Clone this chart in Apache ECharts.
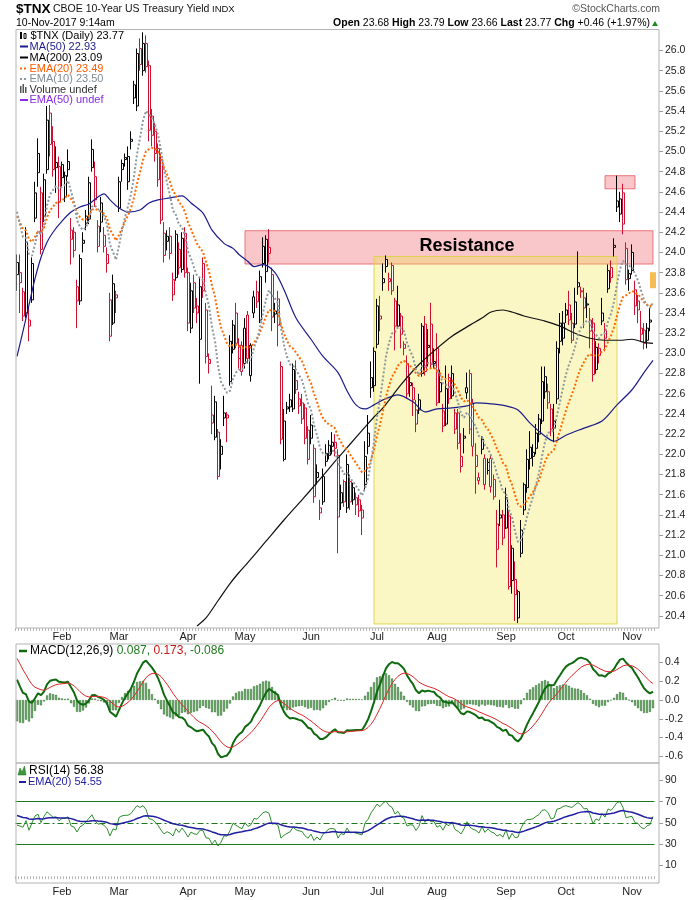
<!DOCTYPE html>
<html>
<head>
<meta charset="utf-8">
<script src="https://cdn.jsdelivr.net/npm/echarts@6.0.0/dist/echarts.min.js"></script>
<style>html,body{margin:0;padding:0;background:#ffffff;}#chart{width:700px;height:900px;}</style>
</head>
<body>
<div id="chart"></div>
<script>
// ================= DATA =================
const tradingDays = {
  '2017-01': [10,11,12,13,17,18,19,20,23,24,25,26,27,30,31],
  '2017-02': [1,2,3,6,7,8,9,10,13,14,15,16,17,21,22,23,24,27,28],
  '2017-03': [1,2,3,6,7,8,9,10,13,14,15,16,17,20,21,22,23,24,27,28,29,30,31],
  '2017-04': [3,4,5,6,7,10,11,12,13,17,18,19,20,21,24,25,26,27,28],
  '2017-05': [1,2,3,4,5,8,9,10,11,12,15,16,17,18,19,22,23,24,25,26,30,31],
  '2017-06': [1,2,5,6,7,8,9,12,13,14,15,16,19,20,21,22,23,26,27,28,29,30],
  '2017-07': [3,5,6,7,10,11,12,13,14,17,18,19,20,21,24,25,26,27,28,31],
  '2017-08': [1,2,3,4,7,8,9,10,11,14,15,16,17,18,21,22,23,24,25,28,29,30,31],
  '2017-09': [1,5,6,7,8,11,12,13,14,15,18,19,20,21,22,25,26,27,28,29],
  '2017-10': [2,3,4,5,6,9,10,11,12,13,16,17,18,19,20,23,24,25,26,27,30,31],
  '2017-11': [1,2,3,6,7,8,9,10]
};
const monthNames = ['Jan','Feb','Mar','Apr','May','Jun','Jul','Aug','Sep','Oct','Nov','Dec'];

const opens = [
23.90,23.80,23.37,23.40,23.33,23.53,24.34,24.98,24.59,24.36,
24.82,25.38,25.10,24.89,24.85,24.87,24.55,24.82,24.22,24.20,
23.66,23.52,24.12,24.29,24.33,24.84,24.75,24.06,24.49,24.06,
23.98,23.53,23.30,23.55,24.44,24.82,24.92,24.70,25.10,25.66,
25.45,26.02,25.80,26.07,25.85,25.35,25.20,25.03,24.92,24.19,
24.16,24.16,23.58,23.75,24.03,23.83,24.19,23.80,23.25,23.70,
23.47,23.14,23.89,23.43,22.90,22.39,22.17,22.22,22.08,22.36,
22.39,23.12,23.04,23.40,23.08,23.08,22.90,23.38,22.78,23.40,
23.61,23.33,23.89,23.81,23.99,23.78,23.42,23.54,22.87,21.95,
22.47,22.47,22.45,22.73,22.48,22.35,22.46,22.24,22.29,22.06,
21.82,21.42,21.53,22.01,21.99,22.08,22.12,21.99,21.52,21.73,
21.47,21.73,21.67,21.57,21.55,21.45,21.70,22.08,22.76,22.68,
23.09,23.37,23.74,23.86,23.74,23.87,23.52,23.27,23.37,23.05,
22.90,22.71,22.54,22.44,22.44,22.80,23.29,23.06,23.29,22.92,
23.05,22.71,22.43,22.30,22.76,22.58,22.41,22.41,21.98,22.16,
22.61,22.80,22.51,21.88,21.74,22.05,21.96,21.84,21.96,21.75,
21.06,21.37,21.40,21.27,21.39,20.75,20.76,20.38,21.02,21.45,
21.67,22.07,21.98,22.06,22.20,22.33,22.62,22.51,22.45,22.26,
22.55,23.30,23.15,23.43,23.48,23.13,23.29,23.66,23.62,23.55,
23.49,23.33,23.30,22.84,23.05,23.32,23.15,23.64,23.85,24.07,
24.51,24.38,24.59,24.04,23.74,24.00,23.63,23.52,23.25,23.23,
23.13,23.33,23.68];
const highs = [
23.98,23.98,23.65,24.25,23.45,23.95,24.70,25.13,24.65,24.78,
25.45,25.46,25.25,25.05,24.95,24.90,24.80,25.02,24.34,24.25,
23.73,23.98,24.20,24.42,24.75,25.12,24.90,24.32,24.55,24.25,
24.05,23.60,23.78,23.62,24.75,24.92,24.98,25.05,25.20,25.70,
26.02,26.12,26.18,26.15,25.90,25.42,25.28,25.08,24.98,24.30,
24.22,24.25,23.80,24.22,24.10,24.20,24.25,23.85,23.70,23.78,
23.55,23.75,23.95,23.50,23.00,22.68,22.58,22.25,22.15,22.58,
22.42,23.18,23.33,23.50,23.15,23.12,23.35,23.42,23.10,23.62,
23.72,23.82,24.15,24.17,24.23,23.85,23.50,23.62,22.92,22.45,
22.52,22.60,22.90,22.93,22.62,22.60,22.50,22.28,22.39,22.10,
21.90,21.55,21.86,22.10,22.14,22.22,22.20,22.05,21.70,21.75,
22.00,21.80,21.72,21.62,21.60,21.50,22.13,22.39,22.92,23.06,
23.54,23.57,23.89,23.97,23.80,23.90,23.55,23.67,23.40,23.12,
22.98,22.77,22.71,22.54,22.60,23.30,23.37,23.24,23.50,23.05,
23.20,22.84,22.50,22.88,22.80,22.88,22.45,22.45,22.21,22.26,
22.81,22.84,22.55,22.11,21.82,22.18,22.00,21.96,22.00,21.80,
21.45,21.55,21.45,21.67,21.45,21.10,20.94,20.66,21.35,21.72,
22.05,22.23,22.10,22.30,22.40,22.87,22.87,22.70,22.50,22.50,
23.12,23.40,23.42,23.50,23.62,23.40,23.65,24.01,23.66,23.65,
23.60,23.45,23.35,23.12,23.10,23.55,23.30,23.88,23.92,24.14,
24.76,24.60,24.68,24.10,23.83,24.08,23.72,23.58,23.42,23.30,
23.30,23.45,23.79];
const lows = [
23.62,23.40,23.32,23.35,23.12,23.50,24.30,24.65,23.98,24.30,
24.78,24.95,24.75,24.59,24.34,24.65,24.50,24.75,23.88,23.95,
23.25,23.48,24.00,24.22,24.28,24.80,24.45,24.00,24.20,24.00,
23.80,23.12,23.28,23.40,24.40,24.70,24.85,24.62,25.02,25.47,
25.40,25.80,25.75,25.78,25.10,25.05,24.90,24.65,24.28,23.90,
24.02,23.93,23.52,23.72,23.78,23.80,23.75,23.22,23.20,23.40,
23.30,22.70,23.55,22.90,22.80,22.20,22.14,21.75,21.85,22.28,
22.12,22.68,23.00,23.05,22.85,22.78,22.85,22.90,22.72,23.35,
23.45,23.30,23.85,23.70,23.90,23.22,23.30,23.07,22.10,21.93,
22.40,22.42,22.42,22.60,22.40,22.30,22.10,21.90,22.10,21.52,
21.70,21.35,21.50,21.88,21.95,22.00,21.98,21.02,21.45,21.48,
21.42,21.45,21.50,21.40,21.38,21.20,21.65,22.00,22.56,22.62,
23.05,23.22,23.62,23.80,23.62,23.58,23.03,23.25,23.05,22.98,
22.55,22.57,22.38,22.22,22.40,22.77,22.78,22.87,22.85,22.85,
22.48,22.51,22.22,22.28,22.50,22.55,22.20,22.05,21.82,22.01,
22.55,22.20,21.98,21.61,21.70,22.00,21.65,21.80,21.62,21.55,
20.88,21.29,21.10,21.26,20.66,20.62,20.35,20.33,20.98,21.40,
21.62,21.85,21.88,22.00,22.12,22.30,22.55,22.45,22.18,22.12,
22.50,23.00,23.08,23.30,23.28,23.10,23.25,23.58,23.55,23.25,
23.35,23.05,22.72,22.80,22.90,23.28,23.02,23.60,23.70,23.96,
24.40,24.30,24.18,23.68,23.62,23.78,23.38,23.30,23.12,23.04,
23.05,23.22,23.66];
const closes = [
23.78,23.70,23.61,24.10,23.27,23.89,24.59,24.79,24.03,24.72,
25.31,25.07,24.82,24.84,24.50,24.74,24.76,24.90,24.13,24.02,
23.52,23.94,24.09,24.36,24.69,25.02,24.52,24.26,24.30,24.17,
23.89,23.17,23.69,23.58,24.70,24.88,24.94,24.95,25.12,25.53,
25.97,25.86,26.07,25.84,25.21,25.16,24.98,24.72,24.32,23.97,
24.11,23.99,23.73,24.18,23.85,24.14,23.80,23.30,23.62,23.45,
23.40,23.66,23.62,22.97,22.94,22.31,22.52,21.78,22.00,22.41,
22.36,22.72,23.28,23.10,22.95,22.82,23.25,22.95,23.08,23.56,
23.51,23.76,24.06,24.13,24.05,23.36,23.39,23.28,22.15,22.33,
22.45,22.54,22.84,22.64,22.55,22.51,22.16,21.95,22.16,21.58,
21.77,21.47,21.78,21.93,22.09,22.12,22.06,21.38,21.62,21.53,
21.90,21.53,21.55,21.50,21.44,21.37,21.98,22.21,22.66,23.02,
23.47,23.34,23.70,23.93,23.71,23.62,23.27,23.48,23.19,23.09,
22.60,22.68,22.66,22.30,22.54,23.27,22.82,23.08,22.89,22.90,
22.51,22.62,22.28,22.65,22.55,22.80,22.25,22.11,21.88,22.18,
22.66,22.25,22.08,21.99,21.77,22.15,21.70,21.92,21.68,21.58,
21.31,21.40,21.17,21.57,20.69,21.07,20.61,20.64,21.25,21.70,
21.95,21.96,22.02,22.21,22.35,22.72,22.77,22.62,22.25,22.33,
23.05,23.12,23.30,23.38,23.33,23.30,23.51,23.70,23.61,23.45,
23.48,23.22,22.79,23.06,22.98,23.40,23.23,23.82,23.75,24.05,
24.45,24.53,24.28,23.73,23.79,23.82,23.47,23.43,23.19,23.10,
23.25,23.31,23.77];
const priorClose = 23.70;

// Moving averages: [trading-day index, value]
const ma50Points = [[0,22.97],[2,23.22],[4,23.48],[6,23.74],[8,23.95],[10,24.10],[12,24.20],[15,24.31],[18,24.40],[21,24.45],[24,24.48],[27,24.55],[29,24.58],[31,24.52],[34,24.44],[37,24.40],[41,24.42],[44,24.49],[47,24.52],[51,24.54],[55,24.56],[58,24.49],[62,24.39],[65,24.22],[69,24.09],[72,24.04],[74,23.98],[77,23.91],[79,23.86],[82,23.88],[86,23.80],[89,23.63],[93,23.35],[98,23.14],[102,22.97],[107,22.81],[110,22.63],[113,22.49],[116,22.45],[119,22.49],[122,22.54],[127,22.59],[132,22.52],[136,22.42],[140,22.45],[145,22.46],[150,22.48],[153,22.51],[158,22.50],[163,22.48],[167,22.44],[171,22.31],[176,22.18],[179,22.13],[183,22.19],[189,22.26],[195,22.33],[200,22.49],[205,22.64],[209,22.81],[212,22.93]];
const ma200Points = [[60,20.30],[63,20.38],[67,20.55],[71,20.72],[74,20.83],[77,20.93],[83,21.14],[89,21.35],[95,21.55],[100,21.72],[106,21.93],[111,22.10],[116,22.27],[119,22.37],[122,22.46],[128,22.69],[134,22.89],[140,23.05],[145,23.17],[151,23.28],[155,23.35],[158,23.41],[162,23.43],[165,23.41],[169,23.37],[176,23.32],[181,23.27],[186,23.20],[191,23.15],[196,23.13],[201,23.13],[205,23.14],[209,23.11],[212,23.10]];
const seeds = {ema10: 24.54, ema20: 24.42, ema12: 24.55, ema26: 24.25, signal: 0.50, rsiGain: 0.16, rsiLoss: 0.18, rsiEma: 58};

// Annotations (data coordinates)
const resistanceBand = {from: 76, to: 212, top: 24.215, bottom: 23.885};
const peakBox = {from: 196, to: 206, top: 24.76, bottom: 24.63};
const yellowBox = {from: 119, to: 200, top: 23.96, bottom: 20.32};
const lastBar = {day: 212, price: 23.725};
const resistanceText = {day: 150, price: 24.06, text: 'Resistance'};
const priceAxis = {min: 20.2, max: 26.2, step: 0.2};
const macdAxis = {min: -0.8, max: 0.6, step: 0.2};
const rsiAxis = {min: -10, max: 110, step: 20};
const rsiLevels = [70, 50, 30];

// ================= BUILD =================
const dates = [];
const firstOfMonth = new Set();
Object.keys(tradingDays).forEach(ym => {
  tradingDays[ym].forEach((d, k) => {
    if (k === 0 && ym !== '2017-01') firstOfMonth.add(dates.length);
    dates.push(ym + '-' + String(d).padStart(2, '0'));
  });
});
const BLACK = '#000000', RED = '#CC1133';
const candleData = closes.map((c, i) => {
  const prev = i === 0 ? priorClose : closes[i - 1];
  const col = c >= prev ? BLACK : RED;
  return {value: [opens[i], c, lows[i], highs[i]],
    itemStyle: {color: '#ffffff', color0: col, borderColor: col, borderColor0: col, borderColorDoji: col}};
});
function emaSeries(vals, n, seed) { const k = 2 / (n + 1); let e = seed; return vals.map(v => (e = e + k * (v - e))); }
const ema10 = emaSeries(closes, 10, seeds.ema10);
const ema20 = emaSeries(closes, 20, seeds.ema20);
const ema12 = emaSeries(closes, 12, seeds.ema12);
const ema26 = emaSeries(closes, 26, seeds.ema26);
const macd = ema12.map((v, i) => v - ema26[i]);
const signal = emaSeries(macd, 9, seeds.signal);
const hist = macd.map((v, i) => v - signal[i]);
let ag = seeds.rsiGain, al = seeds.rsiLoss;
const rsi = closes.map((c, i) => {
  const ch = c - (i === 0 ? priorClose : closes[i - 1]);
  ag = (ag * 13 + Math.max(ch, 0)) / 14;
  al = (al * 13 + Math.max(-ch, 0)) / 14;
  return 100 - 100 / (1 + ag / al);
});
const rsiEma = emaSeries(rsi, 20, seeds.rsiEma);
const r3 = v => Math.round(v * 1000) / 1000;
const toPts = arr => arr.map(p => [dates[p[0]], p[1]]);

const FONT = '"Liberation Sans", Arial, sans-serif';
const monthLabel = {
  interval: (idx) => firstOfMonth.has(idx),
  formatter: (v) => monthNames[parseInt(v.slice(5, 7), 10) - 1],
  fontSize: 11, color: '#222', fontFamily: FONT, margin: 3
};
const dayTicks = {show: true, interval: 0, length: 3, lineStyle: {color: '#b8b8b8', width: 1}};
const yLabel = (fmt) => ({fontSize: 10.5, color: '#222', fontFamily: FONT, margin: 6, showMinLabel: false, showMaxLabel: false, formatter: fmt});
const yTick = {show: true, length: 4, lineStyle: {color: '#9a9a9a'}};
const pinkStyle = {color: 'rgba(236,88,98,0.34)', borderColor: 'rgba(230,80,90,0.75)', borderWidth: 1};
const nulls = dates.map(() => null);
const mid = {verticalAlign: 'middle', textVerticalAlign: 'middle'};
const txt = (x, y, text, font, fill, extra) => ({type: 'text', x, y, z: 100, silent: true,
  style: Object.assign({text, font: font + ' ' + FONT, fill}, mid, extra || {})});

const option = {
  animation: false,
  backgroundColor: '#ffffff',
  grid: [
    {left: 15.5, width: 639, top: 30.3, height: 605.8},
    {left: 15.5, width: 639, top: 643.6, height: 131.6},
    {left: 15.5, width: 639, top: 759.1, height: 127.8}
  ],
  xAxis: [
    {type: 'category', gridIndex: 0, data: dates, boundaryGap: true, offset: -8.1,
      axisLine: {show: false}, axisTick: dayTicks, axisLabel: monthLabel, splitLine: {show: false}},
    {type: 'category', gridIndex: 1, data: dates, boundaryGap: true, show: false},
    {type: 'category', gridIndex: 2, data: dates, boundaryGap: true, offset: -3.9,
      axisLine: {show: false}, axisTick: dayTicks, axisLabel: monthLabel, splitLine: {show: false}}
  ],
  yAxis: [
    {type: 'value', gridIndex: 0, position: 'right', offset: 4.5, min: priceAxis.min, max: priceAxis.max, interval: priceAxis.step,
      axisLine: {show: false}, splitLine: {show: false}, axisTick: yTick,
      axisLabel: yLabel(v => v.toFixed(1))},
    {type: 'value', gridIndex: 1, position: 'right', offset: 4.5, min: macdAxis.min, max: macdAxis.max, interval: macdAxis.step,
      axisLine: {show: false}, splitLine: {show: false}, axisTick: yTick,
      axisLabel: yLabel(v => (Math.abs(v) < 1e-9 ? 0 : v).toFixed(1))},
    {type: 'value', gridIndex: 2, position: 'right', offset: 4.5, min: rsiAxis.min, max: rsiAxis.max, interval: rsiAxis.step,
      axisLine: {show: false}, splitLine: {show: false}, axisTick: yTick,
      axisLabel: yLabel(v => String(Math.round(v)))}
  ],
  series: [
    {name: 'zones', type: 'line', xAxisIndex: 0, yAxisIndex: 0, data: nulls, z: 1, silent: true, symbol: 'none',
      markArea: {silent: true, itemStyle: pinkStyle, data: [
        [{xAxis: dates[resistanceBand.from], yAxis: resistanceBand.top}, {xAxis: dates[resistanceBand.to], yAxis: resistanceBand.bottom}],
        [{xAxis: dates[peakBox.from], yAxis: peakBox.top}, {xAxis: dates[peakBox.to], yAxis: peakBox.bottom}]
      ]},
      markPoint: {silent: true, symbol: 'rect', symbolSize: [6, 16], itemStyle: {color: '#F5BD55'}, label: {show: false},
        data: [{coord: [dates[lastBar.day], lastBar.price]}]}
    },
    {name: '$TNX', type: 'candlestick', xAxisIndex: 0, yAxisIndex: 0, data: candleData, barWidth: 2.5, z: 3,
      itemStyle: {borderWidth: 1}},
    {name: 'MA50', type: 'line', xAxisIndex: 0, yAxisIndex: 0, data: toPts(ma50Points), smooth: 0.3, symbol: 'none', z: 4,
      lineStyle: {color: '#1C1C8C', width: 1.2}},
    {name: 'MA200', type: 'line', xAxisIndex: 0, yAxisIndex: 0, data: toPts(ma200Points), smooth: 0.3, symbol: 'none', z: 4,
      lineStyle: {color: '#111111', width: 1.2}},
    {name: 'EMA20', type: 'line', xAxisIndex: 0, yAxisIndex: 0, data: ema20.map(r3), symbol: 'none', z: 4,
      lineStyle: {color: '#FF6A00', width: 2, type: 'dotted'}},
    {name: 'EMA10', type: 'line', xAxisIndex: 0, yAxisIndex: 0, data: ema10.map(r3), symbol: 'none', z: 4,
      lineStyle: {color: '#8E989F', width: 2, type: 'dotted'}},
    {name: 'overlay', type: 'line', xAxisIndex: 0, yAxisIndex: 0, data: nulls, z: 10, silent: true, symbol: 'none',
      markArea: {silent: true, itemStyle: {color: 'rgba(240,228,60,0.30)', borderColor: 'rgba(222,210,70,0.9)', borderWidth: 1},
        data: [[{xAxis: dates[yellowBox.from], yAxis: yellowBox.top}, {xAxis: dates[yellowBox.to], yAxis: yellowBox.bottom}]]},
      markPoint: {silent: true, symbol: 'rect', symbolSize: 1, itemStyle: {color: 'rgba(0,0,0,0)'},
        label: {show: true, position: 'inside', formatter: resistanceText.text, fontSize: 18, fontWeight: 'bold', color: '#000', fontFamily: FONT},
        data: [{coord: [dates[resistanceText.day], resistanceText.price]}]}
    },
    {name: 'Histogram', type: 'bar', xAxisIndex: 1, yAxisIndex: 1, data: hist.map(r3), barWidth: 2, z: 2,
      itemStyle: {color: '#62A862', borderColor: '#2C6A2C', borderWidth: 0.5}},
    {name: 'MACD', type: 'line', xAxisIndex: 1, yAxisIndex: 1, data: macd.map(r3), symbol: 'none', z: 4,
      lineStyle: {color: '#0E6A0E', width: 2}},
    {name: 'Signal', type: 'line', xAxisIndex: 1, yAxisIndex: 1, data: signal.map(r3), symbol: 'none', z: 4,
      lineStyle: {color: '#E02828', width: 1}},
    {name: 'RSI', type: 'line', xAxisIndex: 2, yAxisIndex: 2, data: rsi.map(v => Math.round(v * 100) / 100), symbol: 'none', z: 4,
      lineStyle: {color: '#2F8F2F', width: 1},
      markLine: {silent: true, symbol: 'none', label: {show: false}, animation: false,
        lineStyle: {color: '#1C7A1C', width: 1},
        data: [
          {yAxis: rsiLevels[0], lineStyle: {type: 'solid', color: '#1C7A1C'}},
          {yAxis: rsiLevels[1], lineStyle: {type: [6, 3, 2, 3], color: '#1C7A1C'}},
          {yAxis: rsiLevels[2], lineStyle: {type: 'solid', color: '#1C7A1C'}}
        ]}},
    {name: 'RSI EMA', type: 'line', xAxisIndex: 2, yAxisIndex: 2, data: rsiEma.map(v => Math.round(v * 100) / 100), symbol: 'none', z: 5,
      lineStyle: {color: '#1F1FA0', width: 1.5}}
  ],
  graphic: [
    // panel frames
    {type: 'rect', shape: {x: 16, y: 29.5, width: 643, height: 598.5}, style: {fill: 'none', stroke: '#b4b4b4', lineWidth: 1}, z: 100, silent: true},
    {type: 'rect', shape: {x: 16, y: 644, width: 643, height: 119}, style: {fill: 'none', stroke: '#b4b4b4', lineWidth: 1}, z: 100, silent: true},
    {type: 'rect', shape: {x: 16, y: 763, width: 643, height: 120}, style: {fill: 'none', stroke: '#b4b4b4', lineWidth: 1}, z: 100, silent: true},
    // header
    txt(16, 9, '$TNX', 'bold 13.5px', '#000'),
    txt(53, 9, 'CBOE 10-Year US Treasury Yield', '10.5px', '#111'),
    txt(212, 9.5, 'INDX', '9.5px', '#111'),
    txt(660, 9, '\u00A9StockCharts.com', '10.5px', '#555', {align: 'right', textAlign: 'right'}),
    txt(16, 23, '10-Nov-2017 9:14am', '10.5px', '#000'),
    txt(650, 23, '{b|Open} 23.68 {b|High} 23.79 {b|Low} 23.66 {b|Last} 23.77 {b|Chg} +0.46 (+1.97%)', '10.5px', '#000',
      {align: 'right', textAlign: 'right', rich: {b: {fontWeight: 'bold', fontSize: 10.5, fontFamily: FONT, fill: '#000'}}}),
    {type: 'polygon', z: 100, silent: true, shape: {points: [[652, 26], [658, 26], [655, 21]]}, style: {fill: '#1E8A1E'}},
    // main legend
    {type: 'rect', z: 100, silent: true, shape: {x: 20, y: 32, width: 2, height: 7}, style: {fill: '#000'}},
    {type: 'rect', z: 100, silent: true, shape: {x: 24, y: 33.5, width: 2, height: 5}, style: {fill: '#fff', stroke: '#000', lineWidth: 1}},
    txt(30.5, 35.5, '$TNX (Daily) 23.77', '11px', '#000'),
    {type: 'line', z: 100, silent: true, shape: {x1: 20, y1: 46.5, x2: 28, y2: 46.5}, style: {stroke: '#1C1C8C', lineWidth: 2}},
    txt(29.5, 46.5, 'MA(50) 22.93', '11px', '#1C1C8C'),
    {type: 'line', z: 100, silent: true, shape: {x1: 20, y1: 57.5, x2: 28, y2: 57.5}, style: {stroke: '#000', lineWidth: 2}},
    txt(29.5, 57.5, 'MA(200) 23.09', '11px', '#000'),
    {type: 'line', z: 100, silent: true, shape: {x1: 20, y1: 68.5, x2: 28, y2: 68.5}, style: {stroke: '#FF6A00', lineWidth: 2, lineDash: [2, 2]}},
    txt(29.5, 68.5, 'EMA(20) 23.49', '11px', '#FF5A00'),
    {type: 'line', z: 100, silent: true, shape: {x1: 20, y1: 79, x2: 28, y2: 79}, style: {stroke: '#8E989F', lineWidth: 2, lineDash: [2, 2]}},
    txt(29.5, 79, 'EMA(10) 23.50', '11px', '#7F8C96'),
    {type: 'rect', z: 100, silent: true, shape: {x: 20, y: 86, width: 1.5, height: 7}, style: {fill: '#555'}},
    {type: 'rect', z: 100, silent: true, shape: {x: 22.5, y: 84, width: 1.5, height: 9}, style: {fill: '#555'}},
    {type: 'rect', z: 100, silent: true, shape: {x: 25, y: 87, width: 1.5, height: 6}, style: {fill: '#555'}},
    txt(29.5, 89.5, 'Volume undef', '11px', '#333'),
    {type: 'line', z: 100, silent: true, shape: {x1: 20, y1: 100, x2: 28, y2: 100}, style: {stroke: '#8A2BE2', lineWidth: 2}},
    txt(29.5, 100, 'EMA(50) undef', '11px', '#8A2BE2'),
    // MACD legend
    {type: 'line', z: 100, silent: true, shape: {x1: 19, y1: 651, x2: 27, y2: 651}, style: {stroke: '#0E6A0E', lineWidth: 2.5}},
    txt(30, 651, 'MACD(12,26,9) {g|0.087,} {r|0.173,} {g|-0.086}', '12px', '#000',
      {rich: {g: {fill: '#1E7A1E', fontSize: 12, fontFamily: FONT}, r: {fill: '#C81818', fontSize: 12, fontFamily: FONT}}}),
    // RSI legend
    {type: 'polygon', z: 100, silent: true, shape: {points: [[18, 775], [20, 768], [22, 772], [24.5, 766], [26, 775]]}, style: {fill: '#3A9A3A', stroke: '#1C6A1C', lineWidth: 0.5}},
    txt(29, 771, 'RSI(14) 56.38', '12px', '#000'),
    {type: 'line', z: 100, silent: true, shape: {x1: 19, y1: 782, x2: 26, y2: 782}, style: {stroke: '#1F1FA0', lineWidth: 2}},
    txt(28, 782, 'EMA(20) 54.55', '11px', '#1F1FA0')
  ]
};
const chart = echarts.init(document.getElementById('chart'), null, {renderer: 'canvas'});
chart.setOption(option);
</script>
</body>
</html>
